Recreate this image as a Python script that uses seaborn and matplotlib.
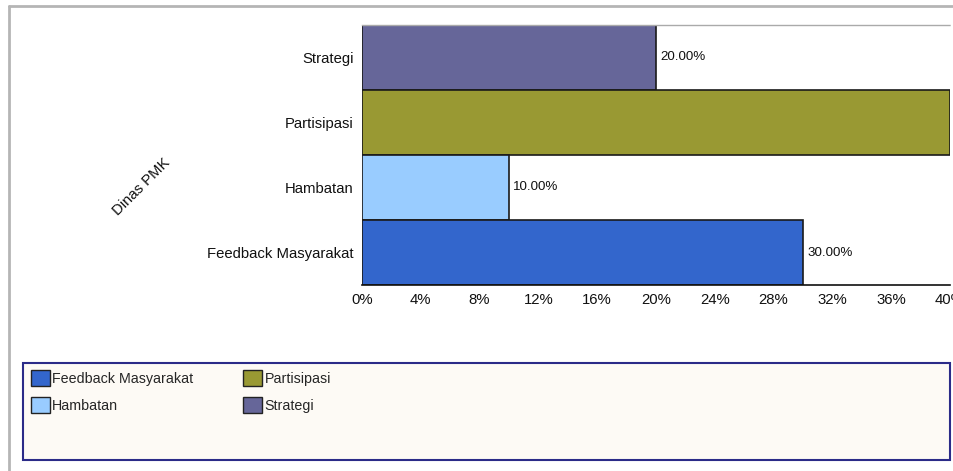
import matplotlib
matplotlib.use("Agg")
import matplotlib.pyplot as plt
from matplotlib.patches import Rectangle, Patch
from matplotlib.lines import Line2D
from matplotlib.ticker import FuncFormatter
import seaborn as sns
import pandas as pd

# Data
categories = ["Strategi", "Partisipasi", "Hambatan", "Feedback Masyarakat"]
values = [20.0, 40.0, 10.0, 30.0]
colors = ["#666699", "#999933", "#99ccff", "#3366cc"]
legend_order = ["Feedback Masyarakat", "Hambatan", "Partisipasi", "Strategi"]
x_ticks = [0, 4, 8, 12, 16, 20, 24, 28, 32, 36, 40]
y_title = "Dinas PMK"

sns.set_theme(style="white")
plt.rcParams["font.family"] = ["Liberation Sans", "DejaVu Sans"]

W, H = 954, 471
fig = plt.figure(figsize=(W / 100, H / 100), dpi=100)
fig.patch.set_facecolor("white")

ax = fig.add_axes([362 / W, 1 - 285 / H, (950 - 362) / W, (285 - 25) / H])

df = pd.DataFrame({"kategori": categories, "nilai": values})
palette = dict(zip(categories, colors))
sns.barplot(data=df, y="kategori", x="nilai", hue="kategori", order=categories,
            hue_order=categories, palette=palette, orient="h", width=1.0,
            edgecolor="#1a1a1a", linewidth=1.2, saturation=1, legend=False, ax=ax)

ax.set_xlim(0, 40)
ax.set_ylim(3.5, -0.5)
ax.set_xticks(x_ticks)
ax.xaxis.set_major_formatter(FuncFormatter(lambda v, p: f"{v:.0f}%"))
ax.set_xlabel("")
ax.set_ylabel("")
ax.tick_params(axis="x", length=0, pad=6, labelsize=10.7, colors="#111111")
ax.tick_params(axis="y", length=0, pad=6, labelsize=10.7, colors="#111111")

for c in ax.containers:
    ax.bar_label(c, labels=[f"{v:.2f}%" for v in c.datavalues], padding=3,
                 fontsize=9.6, color="#111111", clip_on=False)

for s in ["left", "right"]:
    ax.spines[s].set_visible(False)
ax.spines["bottom"].set_color("#111111")
ax.spines["bottom"].set_linewidth(1.2)
ax.spines["top"].set_color("#aaaaaa")
ax.spines["top"].set_linestyle((0, (1, 1)))
ax.spines["top"].set_linewidth(1.0)

fig.text(142 / W, 1 - 187 / H, y_title, rotation=45, ha="center", va="center",
         rotation_mode="anchor", fontsize=10.7, color="#111111")

# Outer frame of the chart area
fig.add_artist(Line2D([9 / W, 9 / W], [0, 1 - 6 / H], transform=fig.transFigure,
                      color="#b5b5b5", linewidth=2))
fig.add_artist(Line2D([9 / W, 1], [1 - 6 / H, 1 - 6 / H], transform=fig.transFigure,
                      color="#b5b5b5", linewidth=2))

# Legend box
fig.add_artist(Rectangle((23 / W, 1 - 460 / H), (950 - 23) / W, (460 - 363) / H,
                         transform=fig.transFigure, facecolor="#fdfaf5",
                         edgecolor="#2b2b88", linewidth=1.5))
handles = [Patch(facecolor=palette[k], edgecolor="#222222", linewidth=1.0, label=k)
           for k in legend_order]
fig.legend(handles=handles, loc="upper left", bbox_to_anchor=(31 / W, 1 - 370 / H),
           ncol=2, frameon=False, fontsize=10.3, handlelength=1.33, handleheight=1.33,
           handletextpad=0.15, labelspacing=0.8, columnspacing=3.5,
           borderpad=0.0, borderaxespad=0.0)

fig.savefig("out.png", dpi=100)
